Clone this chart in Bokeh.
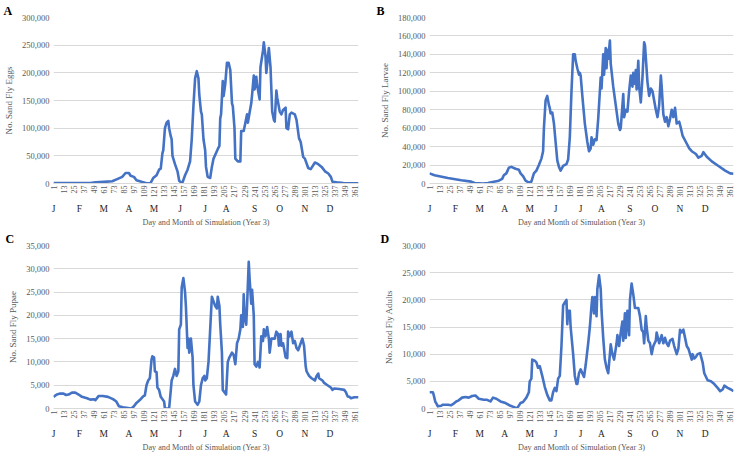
from bokeh.plotting import figure
from bokeh.layouts import gridplot
from bokeh.models import (Range1d, FixedTicker, NumeralTickFormatter, LinearAxis, Title)
from bokeh.embed import file_html
from bokeh.resources import INLINE
import math

# ---------------- data ----------------
eggs_day = [1, 20, 45, 51, 61, 71, 77, 83, 87, 91, 93, 97, 100, 106, 112, 117, 120, 124, 127, 129, 131,
            132, 134, 136, 138, 139, 141, 142, 143, 146, 149, 151, 154, 155, 158, 161, 164, 166, 168,
            170, 172, 174, 175, 177, 178, 180, 182, 183, 185, 188, 190, 192, 195, 197, 199, 200, 201,
            203, 204, 206, 208, 210, 212, 214, 215, 217, 218, 221, 224, 225, 228, 230, 232, 233, 235,
            237, 238, 240, 241, 243, 244, 247, 248, 251, 252, 254, 255, 256, 258, 260, 262, 264, 265,
            267, 268, 271, 273, 275, 278, 279, 281, 283, 285, 289, 291, 294, 296, 299, 301, 305, 308,
            313, 317, 321, 325, 329, 332, 334, 339, 347, 365]
eggs_val = [800, 600, 800, 2000, 3000, 4000, 8000, 12000, 19000, 19000, 14000, 12000, 6000, 3000,
            500, 1000, 10000, 15000, 25000, 27000, 55000, 60000, 100000, 110000, 113000, 100000,
            85000, 80000, 50000, 35000, 22000, 5000, 1000, 2000, 15000, 25000, 40000, 80000, 140000,
            190000, 203000, 190000, 160000, 130000, 125000, 80000, 60000, 30000, 12000, 10000, 30000,
            45000, 55000, 62000, 68000, 118000, 125000, 185000, 158000, 180000, 218000, 218000,
            205000, 145000, 140000, 100000, 45000, 40000, 40000, 95000, 95000, 110000, 125000, 110000,
            128000, 145000, 160000, 195000, 170000, 193000, 178000, 152000, 210000, 240000, 255000,
            230000, 200000, 215000, 245000, 210000, 130000, 115000, 112000, 168000, 155000, 130000,
            125000, 133000, 137000, 100000, 98000, 125000, 128000, 125000, 115000, 82000, 75000,
            48000, 45000, 28000, 26000, 38000, 35000, 30000, 22000, 18000, 12000, 3000, 2000, 1000,
            500]

larvae_day = [1, 7, 23, 39, 51, 55, 65, 71, 78, 84, 88, 90, 93, 96, 99, 104, 108, 110, 113, 116, 120,
              123, 126, 129, 132, 135, 137, 138, 140, 142, 144, 145, 146, 148, 150, 152, 154, 156, 158,
              161, 165, 167, 169, 171, 173, 175, 176, 178, 180, 181, 182, 184, 187, 190, 192, 194, 195,
              197, 199, 201, 203, 205, 206, 207, 209, 210, 212, 213, 214, 215, 217, 218, 221, 224, 227,
              229, 230, 233, 234, 236, 238, 240, 242, 244, 245, 247, 248, 249, 251, 252, 254, 256, 258,
              259, 262, 264, 266, 268, 270, 272, 274, 276, 278, 279, 281, 283, 285, 287, 289, 291, 293,
              295, 297, 300, 302, 304, 308, 312, 315, 320, 323, 327, 329, 333, 339, 347, 355, 361, 365]
larvae_val = [11000, 9000, 6000, 3500, 2000, 500, 0, 500, 2000, 3000, 5000, 9000, 11000, 17000, 18000,
              16000, 15000, 11000, 8000, 3000, 1000, 2000, 11000, 14000, 20000, 27000, 35000, 60000,
              90000, 95000, 85000, 82000, 76000, 77000, 65000, 45000, 25000, 18000, 14000, 19000, 21000,
              26000, 50000, 100000, 140000, 140000, 133000, 125000, 118000, 120000, 117000, 95000,
              65000, 45000, 35000, 38000, 50000, 42000, 48000, 47000, 70000, 100000, 115000, 103000,
              140000, 118000, 147000, 125000, 145000, 135000, 155000, 130000, 105000, 85000, 65000,
              58000, 60000, 97000, 72000, 80000, 78000, 100000, 117000, 105000, 120000, 108000, 123000,
              102000, 133000, 105000, 88000, 115000, 153000, 150000, 110000, 95000, 103000, 100000,
              90000, 80000, 72000, 85000, 117000, 105000, 75000, 67000, 72000, 62000, 70000, 80000,
              72000, 82000, 65000, 67000, 60000, 52000, 45000, 38000, 35000, 32000, 28000, 30000,
              34000, 29000, 24000, 19000, 14000, 11000, 10500]

pupae_day = [1, 5, 9, 13, 16, 19, 23, 27, 31, 35, 41, 45, 49, 51, 55, 60, 66, 72, 76, 79, 84, 90, 94,
             97, 100, 104, 108, 110, 112, 114, 116, 118, 119, 121, 122, 124, 125, 127, 129, 133, 134,
             139, 142, 144, 146, 148, 150, 151, 153, 154, 156, 158, 159, 161, 162, 163, 165, 167, 168,
             170, 173, 175, 177, 179, 181, 182, 184, 186, 188, 190, 192, 194, 196, 197, 199, 200, 202,
             203, 205, 207, 209, 211, 214, 216, 218, 220, 222, 224, 225, 227, 228, 229, 231, 232, 234,
             235, 237, 238, 240, 241, 243, 245, 247, 249, 251, 252, 254, 256, 258, 259, 261, 265, 267,
             269, 270, 272, 273, 275, 278, 280, 281, 283, 285, 287, 289, 291, 293, 296, 298, 300, 302,
             303, 306, 309, 313, 315, 317, 318, 322, 324, 328, 332, 334, 336, 342, 348, 350, 352, 354,
             356, 360, 365]
pupae_val = [2500, 3000, 3200, 3200, 2900, 3000, 3400, 3400, 3000, 2500, 2200, 1900, 2000, 1800, 2700,
             2700, 2500, 2000, 1500, 500, 250, 100, 0, 500, 1200, 1800, 2600, 2800, 5000, 6000, 6500,
             10500, 11200, 11000, 8000, 7800, 4500, 4000, 2500, 1500, 0, 0, 6000, 7000, 8500, 7000,
             8000, 17000, 18000, 26000, 28000, 25000, 22000, 13000, 15000, 12000, 15000, 11000, 5000,
             1500, 800, 1500, 5000, 6500, 7000, 6000, 6500, 10000, 17000, 24000, 23000, 22000, 21500,
             24000, 22000, 18000, 12000, 4000, 3500, 3000, 10000, 11000, 12000, 11500, 9500, 14000,
             15000, 17000, 20000, 17500, 24500, 20000, 18000, 22000, 31500, 28000, 22500, 25500,
             20000, 9500, 9000, 10000, 8800, 15500, 14500, 17000, 15500, 17500, 15000, 12000, 15000,
             15000, 16500, 16000, 13500, 16000, 13500, 14000, 11000, 10800, 16500, 15500, 16500,
             14000, 14500, 13000, 12500, 14000, 15000, 13500, 9000, 8000, 7000, 6500, 6000, 7000,
             7500, 6500, 6000, 5500, 5000, 4500, 4000, 4300, 4200, 4000, 3500, 2600, 2500, 2200, 2400,
             2400]

adults_day = [1, 5, 6, 8, 9, 11, 15, 17, 23, 27, 29, 33, 36, 40, 44, 48, 52, 56, 60, 66, 70, 74, 77,
              81, 86, 92, 98, 103, 105, 107, 110, 113, 117, 120, 121, 123, 124, 127, 129, 131, 133,
              136, 139, 142, 145, 147, 149, 151, 153, 155, 157, 159, 161, 163, 165, 166, 167, 169, 170,
              173, 175, 177, 178, 180, 182, 184, 186, 188, 191, 193, 195, 196, 198, 199, 201, 202, 204,
              206, 207, 209, 211, 213, 215, 217, 218, 220, 222, 225, 226, 228, 230, 232, 233, 235, 236,
              238, 240, 241, 243, 245, 247, 251, 253, 255, 257, 258, 260, 261, 263, 265, 267, 269, 272,
              273, 276, 277, 279, 281, 283, 285, 287, 289, 292, 294, 296, 297, 299, 301, 303, 305, 307,
              309, 311, 313, 315, 316, 318, 320, 322, 325, 328, 330, 334, 338, 342, 346, 349, 352, 354,
              358, 362, 365]
adults_val = [3000, 3000, 2500, 1200, 1000, 400, 500, 700, 700, 600, 800, 1300, 1500, 2000, 2100,
              2000, 2300, 2400, 1800, 1600, 1600, 1300, 2000, 1800, 1300, 1000, 500, 200, 0, 300,
              1000, 1200, 2000, 3000, 5000, 5500, 9000, 8800, 8500, 7500, 7800, 6000, 4000, 2500,
              1500, 1500, 3000, 3800, 3200, 5500, 6000, 11500, 19000, 19500, 20000, 15500, 18000,
              18000, 15000, 10000, 6000, 4500, 4500, 6500, 7200, 6500, 5800, 8000, 12000, 15000,
              19000, 20500, 17500, 20500, 17000, 22000, 24500, 22000, 18000, 13000, 9000, 7500, 6500,
              10000, 11800, 10000, 9000, 12000, 13500, 11500, 14000, 16000, 12500, 17500, 13000, 18000,
              13500, 20000, 23000, 21000, 18500, 18500, 17000, 14500, 14000, 12000, 17000, 15000,
              12500, 12000, 10000, 11500, 12500, 14000, 12000, 12500, 13500, 12000, 13000, 12000,
              11500, 12500, 12800, 11500, 10500, 10000, 11000, 14500, 14000, 14500, 13000, 11500,
              11000, 10000, 9000, 10000, 9200, 9500, 10000, 10200, 8500, 6500, 5200, 5000, 4500, 3800,
              3200, 3500, 4200, 3800, 3500, 3200]

day_ticks = list(range(1, 366, 12))
month_labels = ["J", "F", "M", "A", "M", "J", "J", "A", "S", "O", "N", "D"]
month_pos = [1, 32, 61, 91, 121, 152, 182, 207, 241, 271, 301, 331]

FONT = "Liberation Serif"
GREY = "#595959"
LINE = "#4472C4"


def panel(letter, loff, days, vals, ymax, ystep, ylabel, w, h, bl, br, bt, bb):
    p = figure(width=w, height=h, output_backend="svg", toolbar_location=None,
               x_range=Range1d(1, 365), y_range=Range1d(0, ymax),
               min_border_left=bl, min_border_right=br, min_border_top=bt, min_border_bottom=bb,
               x_axis_location=None)
    p.outline_line_color = None
    p.xgrid.grid_line_color = None
    p.ygrid.grid_line_color = "#d9d9d9"
    p.ygrid.ticker = FixedTicker(ticks=list(range(0, ymax + 1, ystep)))

    yax = p.yaxis[0]
    yax.ticker = FixedTicker(ticks=list(range(0, ymax + 1, ystep)))
    yax.formatter = NumeralTickFormatter(format="0,0")
    yax.axis_line_color = None
    yax.major_tick_line_color = None
    yax.minor_tick_line_color = None
    yax.major_tick_out = 0
    yax.major_tick_in = 0
    yax.minor_tick_out = 0
    yax.major_label_text_font = FONT
    yax.major_label_text_font_size = "8.5px"
    yax.major_label_text_color = GREY
    yax.major_label_standoff = 4
    yax.axis_label = ylabel
    yax.axis_label_text_font = FONT
    yax.axis_label_text_font_size = "9px"
    yax.axis_label_text_font_style = "normal"
    yax.axis_label_text_color = GREY
    yax.axis_label_standoff = 5

    dax = LinearAxis(ticker=FixedTicker(ticks=day_ticks))
    dax.axis_line_color = "#d9d9d9"
    dax.major_tick_line_color = None
    dax.minor_tick_line_color = None
    dax.major_tick_out = 0
    dax.major_tick_in = 0
    dax.minor_tick_out = 0
    dax.major_label_orientation = math.pi / 2
    dax.major_label_text_font = FONT
    dax.major_label_text_font_size = "8px"
    dax.major_label_text_color = GREY
    dax.major_label_standoff = 2
    p.add_layout(dax, "below")

    max_ = LinearAxis(ticker=FixedTicker(ticks=month_pos),
                      major_label_overrides={m: t for m, t in zip(month_pos, month_labels)})
    max_.axis_line_color = None
    max_.major_tick_line_color = None
    max_.minor_tick_line_color = None
    max_.major_tick_out = 0
    max_.major_tick_in = 0
    max_.minor_tick_out = 0
    max_.major_label_text_font = FONT
    max_.major_label_text_font_size = "9.5px"
    max_.major_label_text_color = "#262626"
    max_.major_label_standoff = 3
    max_.axis_label = "Day and Month of Simulation (Year 3)"
    max_.axis_label_text_font = FONT
    max_.axis_label_text_font_size = "8.2px"
    max_.axis_label_text_font_style = "normal"
    max_.axis_label_text_color = GREY
    max_.axis_label_standoff = 1
    p.add_layout(max_, "below")

    p.line(days, vals, line_color=LINE, line_width=2.6, line_join="round")

    p.add_layout(Title(text=letter, align="left", offset=loff, standoff=0,
                       text_font=FONT, text_font_style="bold", text_font_size="12px",
                       text_color="#000000"), "above")
    return p


pA = panel("A", -50, eggs_day, eggs_val, 300000, 50000, "No. Sand Fly Eggs", 368, 229, 53, 10, 17, 40)
pB = panel("B", -53, larvae_day, larvae_val, 180000, 20000, "No. Sand Fly Larvae", 367, 229, 61, 1, 17, 40)
pC = panel("C", -48, pupae_day, pupae_val, 35000, 5000, "No. Sand Fly Pupae", 368, 225, 51, 10, 14, 42)
pD = panel("D", -49, adults_day, adults_val, 30000, 5000, "No. Sand Fly Adults", 367, 225, 57, 2, 14, 42)

grid = gridplot([[pA, pB], [pC, pD]], toolbar_location=None)

open("out.html", "w").write(file_html(grid, INLINE))
